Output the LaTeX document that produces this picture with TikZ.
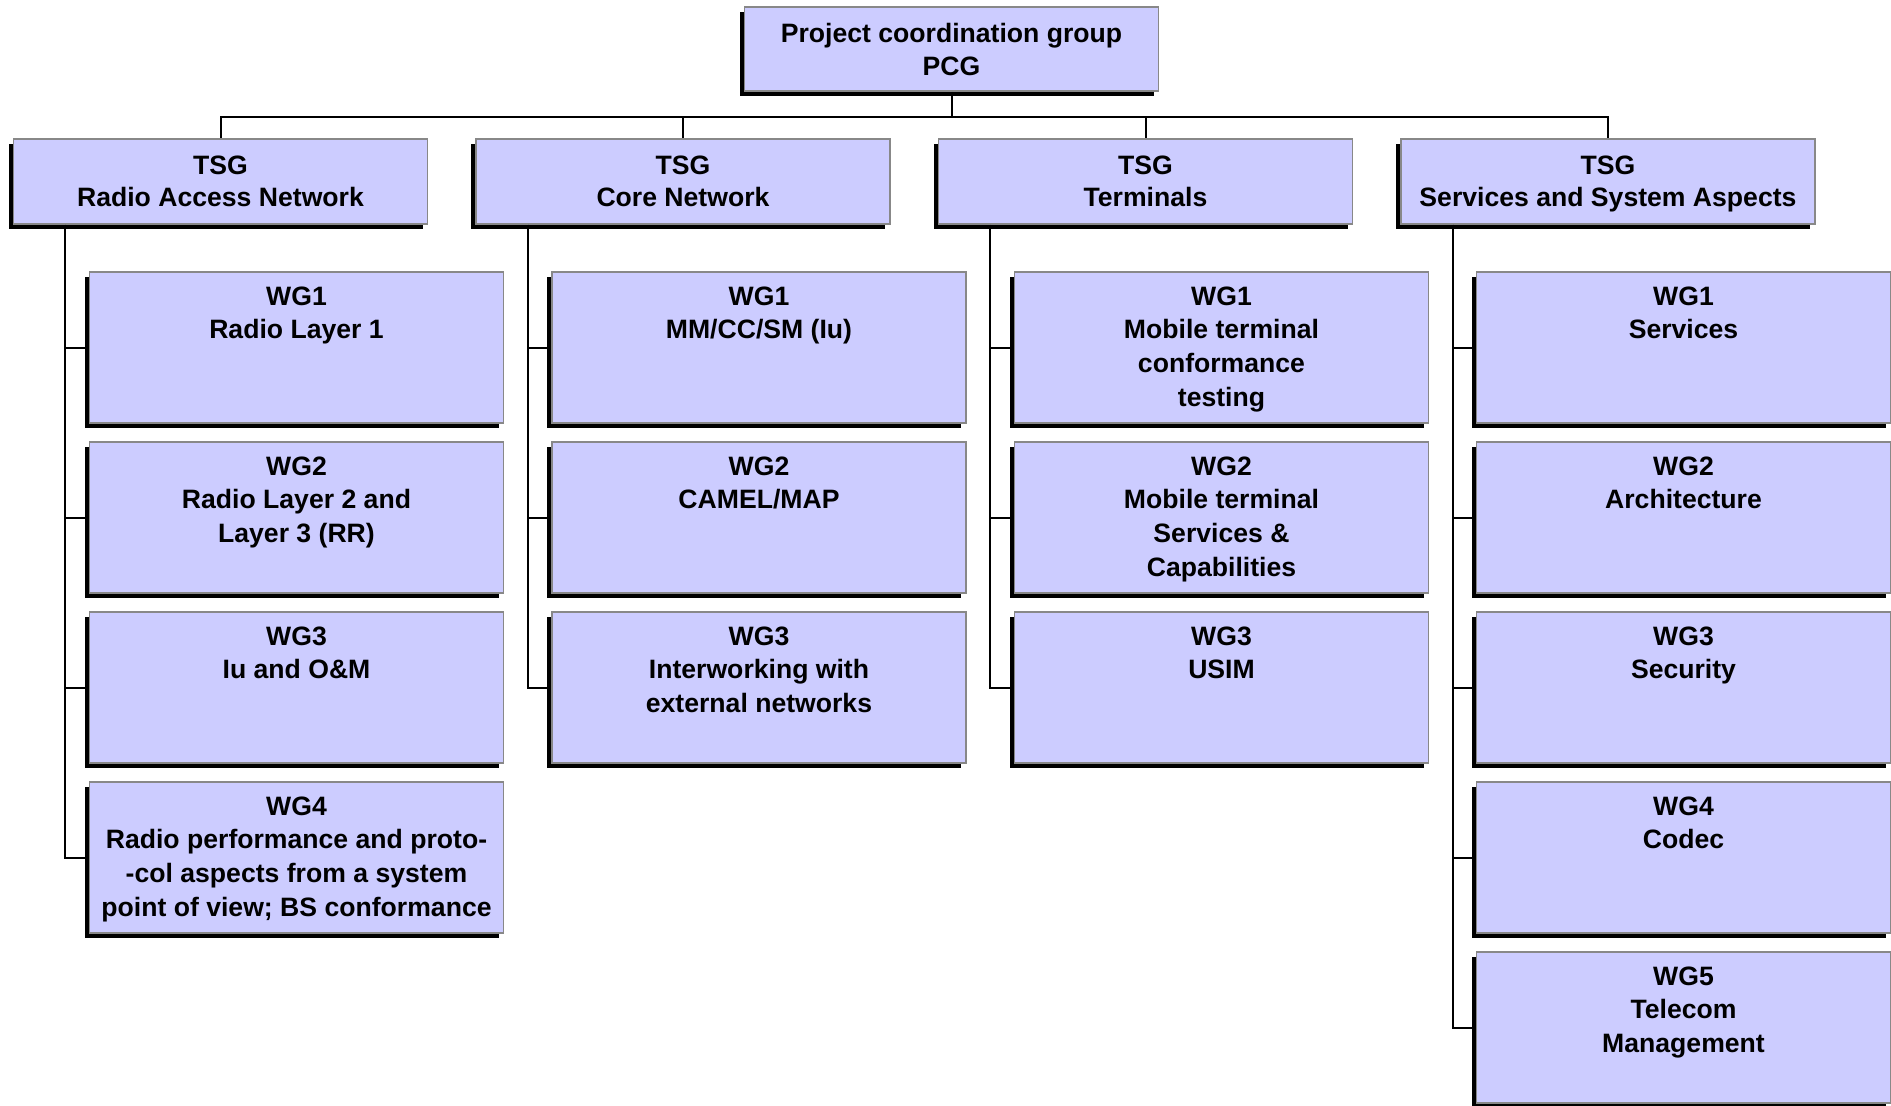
\documentclass[tikz,border=0pt]{standalone}
\usepackage{fontspec}
\setmainfont{Liberation Sans}
\usetikzlibrary{shadows}
\definecolor{boxfill}{RGB}{204,204,255}
\definecolor{boxline}{RGB}{136,136,136}

% #1 name, #2 box style, #3 x, #4 y (downwards), #5 caption, #6 caption drop from top edge
\newcommand\groupunit[6]{%
  \node[#2] (#1) at (#3,-#4) {};
  \node[caption, #2 text] (#1-text) at ([yshift=-#6pt]#1.north) {#5};%
}

\begin{document}
\begin{tikzpicture}[x=1pt,y=1pt,
  box/.style={draw=boxline, line width=1.5pt, fill=boxfill, inner sep=0pt,
    minimum width=414pt,
    drop shadow={shadow xshift=-5pt, shadow yshift=-5pt, fill=black, opacity=1}},
  topbox/.style={box, minimum height=84pt},
  headbox/.style={box, minimum height=85pt},
  wgbox/.style={box, minimum height=151pt},
  caption/.style={anchor=north, align=center, inner sep=0pt},
  topbox text/.style={font=\fontsize{26.6}{32.6}\selectfont\bfseries},
  headbox text/.style={font=\fontsize{26.6}{32.6}\selectfont\bfseries},
  wgbox text/.style={font=\fontsize{26.6}{33.7}\selectfont\bfseries},
  conn/.style={draw=black, line width=2pt}]

\useasboundingbox[fill=white] (0,0) rectangle (1891,-1106);

% top level
\groupunit{pcg}{topbox}{951.5}{49}{Project coordination group\\PCG}{17}

% technical specification groups
\groupunit{ran}{headbox}{220.5}{181.5}{TSG\\Radio Access Network}{17}
\groupunit{cn}{headbox}{683}{181.5}{TSG\\Core Network}{17}
\groupunit{t}{headbox}{1145.5}{181.5}{TSG\\Terminals}{17}
\groupunit{sa}{headbox}{1608}{181.5}{TSG\\Services and System Aspects}{17}

% working groups: Radio Access Network
\groupunit{ran1}{wgbox}{296.5}{347.5}{WG1\\Radio Layer 1}{15}
\groupunit{ran2}{wgbox}{296.5}{517.5}{WG2\\Radio Layer 2 and\\Layer 3 (RR)}{15}
\groupunit{ran3}{wgbox}{296.5}{687.5}{WG3\\Iu and O\&M}{15}
\groupunit{ran4}{wgbox}{296.5}{857.5}{WG4\\Radio performance and proto-\\-col aspects from a system\\point of view; BS conformance}{15}

% working groups: Core Network
\groupunit{cn1}{wgbox}{759}{347.5}{WG1\\MM/CC/SM (Iu)}{15}
\groupunit{cn2}{wgbox}{759}{517.5}{WG2\\CAMEL/MAP}{15}
\groupunit{cn3}{wgbox}{759}{687.5}{WG3\\Interworking with\\external networks}{15}

% working groups: Terminals
\groupunit{t1}{wgbox}{1221.5}{347.5}{WG1\\Mobile terminal\\conformance\\testing}{15}
\groupunit{t2}{wgbox}{1221.5}{517.5}{WG2\\Mobile terminal\\Services \&\\Capabilities}{15}
\groupunit{t3}{wgbox}{1221.5}{687.5}{WG3\\USIM}{15}

% working groups: Services and System Aspects
\groupunit{sa1}{wgbox}{1683.5}{347.5}{WG1\\Services}{15}
\groupunit{sa2}{wgbox}{1683.5}{517.5}{WG2\\Architecture}{15}
\groupunit{sa3}{wgbox}{1683.5}{687.5}{WG3\\Security}{15}
\groupunit{sa4}{wgbox}{1683.5}{857.5}{WG4\\Codec}{15}
\groupunit{sa5}{wgbox}{1683.5}{1027.5}{WG5\\Telecom\\Management}{15}

% bus from the coordination group to the TSGs
\coordinate (bus) at (951.5,-117);
\draw[conn] (pcg.south) -- (bus);
\foreach \g in {ran,cn,t,sa} \draw[conn] (bus) -| (\g.north);

% trunks from each TSG to its working groups
\foreach \g/\n in {ran/4,cn/3,t/3,sa/5}
  \foreach \k in {1,...,\n}
    \draw[conn] ([xshift=-155.5pt]\g.south) |- (\g\k.west);

\end{tikzpicture}
\end{document}
